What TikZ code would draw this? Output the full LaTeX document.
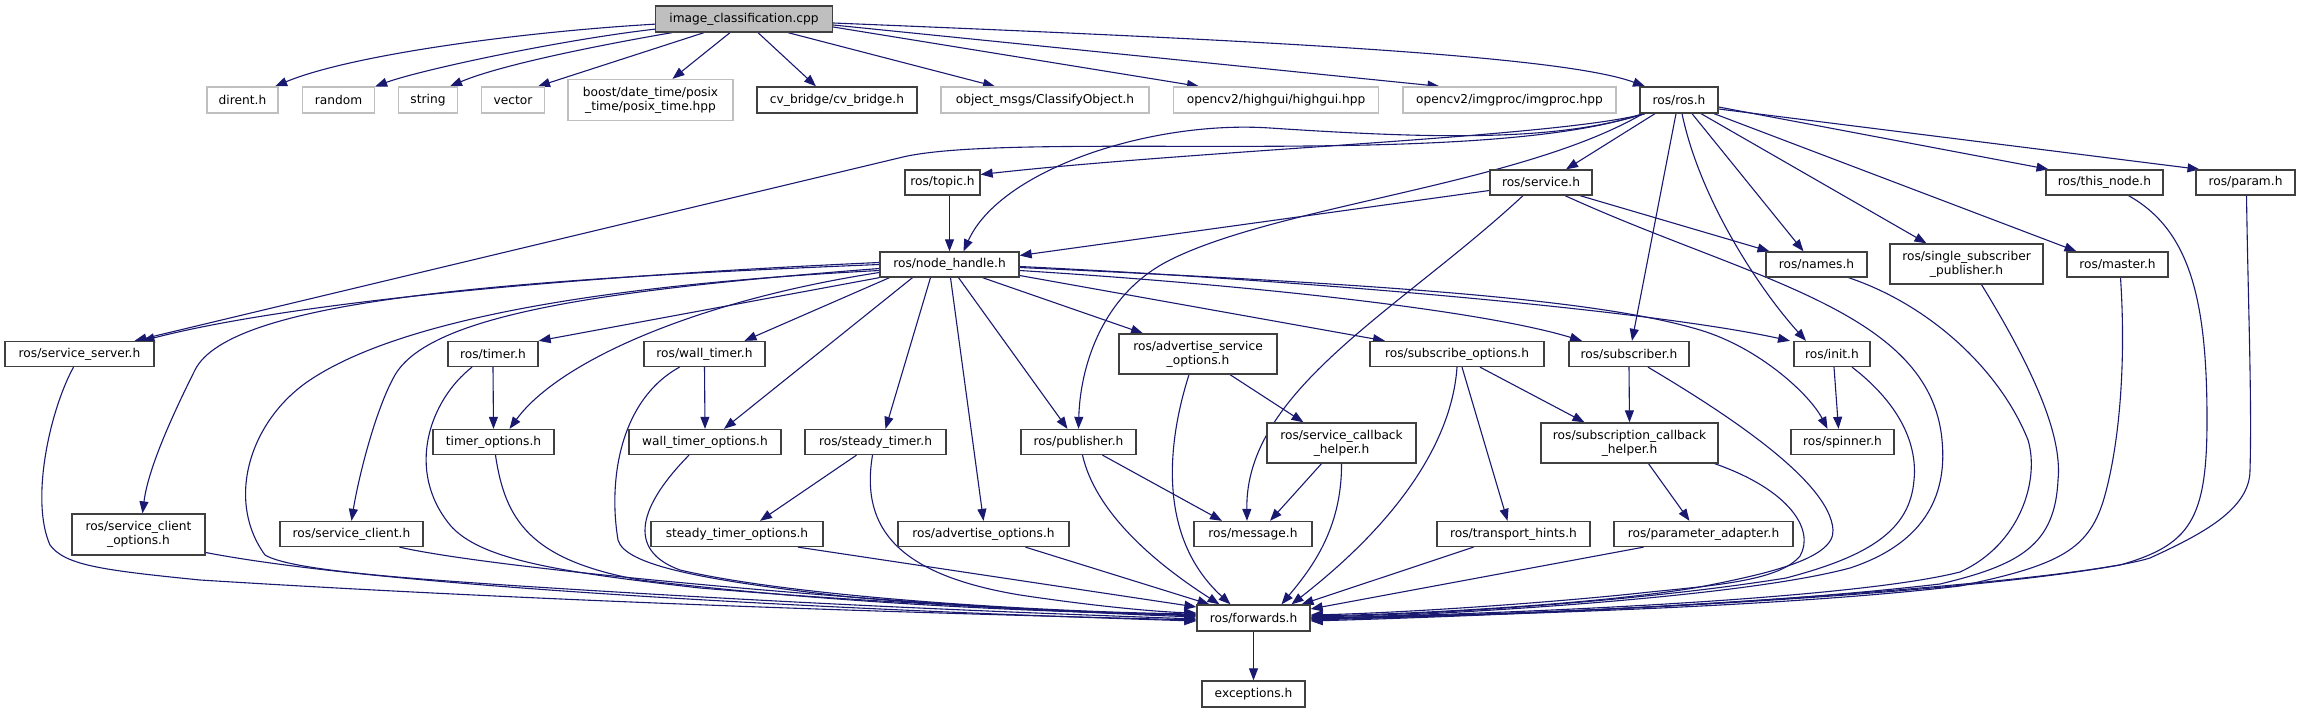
\documentclass[tikz,border=0pt]{standalone}
\usepackage{fontspec}
\setmainfont{DejaVu Sans}
\usetikzlibrary{arrows.meta}
\pgfdeclarelayer{bg}
\pgfsetlayers{bg,main}
\definecolor{edgeblue}{HTML}{191970}
\definecolor{extgray}{HTML}{BFBFBF}
\definecolor{boxdark}{HTML}{404040}
\begin{document}
\begin{tikzpicture}[x=1pt,y=-1pt,
  box/.style={draw=boxdark, line width=1.3pt, fill=white, inner sep=0pt, minimum height=25pt,
    font=\fontsize{12.2}{14}\selectfont, align=center},
  ext/.style={box, draw=extgray},
  topbox/.style={box, fill=extgray},
  dep/.style={draw=edgeblue, line width=1.1pt, -{Triangle[length=12pt,width=9pt]}},
]
\useasboundingbox (0,0) rectangle (2315,708);
% row 0
\node[topbox, minimum width=177pt, minimum height=26pt] (top) at (744,19) {image\_classification.cpp};
% row 1
\node[ext, minimum width=71pt, minimum height=26pt] (dirent) at (242.5,100) {dirent.h};
\node[ext, minimum width=72pt, minimum height=26pt] (random) at (338.5,100) {random};
\node[ext, minimum width=59pt, minimum height=26pt] (string) at (428,100) {string};
\node[ext, minimum width=63pt, minimum height=26pt] (vector) at (513,100) {vector};
\node[ext, minimum width=165pt, minimum height=41pt] (boost) at (650.5,100) {boost/date\_time/posix\\\_time/posix\_time.hpp};
\node[box, minimum width=160pt, minimum height=26pt] (cvb) at (837,100) {cv\_bridge/cv\_bridge.h};
\node[ext, minimum width=208pt, minimum height=26pt] (obj) at (1045,100) {object\_msgs/ClassifyObject.h};
\node[ext, minimum width=205pt, minimum height=26pt] (hig) at (1276,100) {opencv2/highgui/highgui.hpp};
\node[ext, minimum width=213pt, minimum height=26pt] (imp) at (1509.5,100) {opencv2/imgproc/imgproc.hpp};
\node[box, minimum width=78pt, minimum height=26pt] (ros) at (1679,100) {ros/ros.h};
% row 2
\node[box, minimum width=75pt] (topic) at (942.5,182.5) {ros/topic.h};
\node[box, minimum width=102pt] (srv) at (1541,182.5) {ros/service.h};
\node[box, minimum width=117pt] (thn) at (2104.5,182.5) {ros/this\_node.h};
\node[box, minimum width=99pt] (prm) at (2245.5,182.5) {ros/param.h};
% row 3
\node[box, minimum width=139pt] (nh) at (949.5,264.5) {ros/node\_handle.h};
\node[box, minimum width=101pt] (names) at (1816.5,264.5) {ros/names.h};
\node[box, minimum width=153pt, minimum height=40pt] (ssp) at (1966.5,264) {ros/single\_subscriber\\\_publisher.h};
\node[box, minimum width=101pt] (mst) at (2117.5,264.5) {ros/master.h};
% row 4
\node[box, minimum width=149pt] (ss) at (79.5,354) {ros/service\_server.h};
\node[box, minimum width=90pt] (tmr) at (493,354) {ros/timer.h};
\node[box, minimum width=121pt] (wt) at (704.5,354) {ros/wall\_timer.h};
\node[box, minimum width=158pt, minimum height=40pt] (aso) at (1198,354) {ros/advertise\_service\\\_options.h};
\node[box, minimum width=174pt] (so) at (1457,354) {ros/subscribe\_options.h};
\node[box, minimum width=120pt] (sub) at (1629,354) {ros/subscriber.h};
\node[box, minimum width=76pt] (init) at (1832,354) {ros/init.h};
% row 5
\node[box, minimum width=121pt] (tmo) at (493.5,442) {timer\_options.h};
\node[box, minimum width=152pt] (wto) at (705,442) {wall\_timer\_options.h};
\node[box, minimum width=141pt] (st) at (875.5,442) {ros/steady\_timer.h};
\node[box, minimum width=115pt] (pub) at (1078.5,442) {ros/publisher.h};
\node[box, minimum width=149pt, minimum height=40pt] (scbh) at (1341.5,443) {ros/service\_callback\\\_helper.h};
\node[box, minimum width=177pt, minimum height=40pt] (sch) at (1629.5,443) {ros/subscription\_callback\\\_helper.h};
\node[box, minimum width=103pt] (spin) at (1842.5,442) {ros/spinner.h};
% row 6
\node[box, minimum width=133pt, minimum height=41pt] (sco) at (138.5,534.5) {ros/service\_client\\\_options.h};
\node[box, minimum width=143pt] (sc) at (351.5,534) {ros/service\_client.h};
\node[box, minimum width=172pt] (sto) at (737,534) {steady\_timer\_options.h};
\node[box, minimum width=171pt] (ao) at (983.5,534) {ros/advertise\_options.h};
\node[box, minimum width=118pt] (msg) at (1253,534) {ros/message.h};
\node[box, minimum width=153pt] (th) at (1513.5,534) {ros/transport\_hints.h};
\node[box, minimum width=179pt] (pa) at (1703.5,534) {ros/parameter\_adapter.h};
% row 7, 8
\node[box, minimum width=113pt, minimum height=26pt] (fw) at (1253.5,618) {ros/forwards.h};
\node[box, minimum width=103pt, minimum height=26pt] (exc) at (1253.5,694) {exceptions.h};

\begin{pgfonlayer}{bg}
% from image_classification.cpp
\draw[dep] (top) .. controls (520,32) and (350,55) .. (dirent);
\draw[dep] (top) .. controls (560,40) and (420,70) .. (random);
\draw[dep] ([xshift=-72pt]top.south) .. controls (600,45) and (500,65) .. ([xshift=22pt]string.north);
\draw[dep] ([xshift=-40pt]top.south) -- ([xshift=25pt]vector.north);
\draw[dep] ([xshift=-14pt]top.south) -- ([xshift=22pt]boost.north);
\draw[dep] ([xshift=14pt]top.south) -- ([xshift=-21pt]cvb.north);
\draw[dep] ([xshift=44pt]top.south) -- ([xshift=-50pt]obj.north);
\draw[dep] ([yshift=-8pt]top.east) -- ([xshift=-77pt]hig.north);
\draw[dep] ([yshift=-6pt]top.east) -- ([xshift=-70pt]imp.north);
\draw[dep] ([yshift=-4pt]top.east) .. controls (1250,40) and (1560,55) .. ([xshift=-34pt]ros.north);
% from ros/ros.h
\draw[dep] ([xshift=-34pt]ros.south) .. controls (1560,137) and (1200,150) .. ([yshift=8pt]topic.east);
\draw[dep] ([xshift=-34pt]ros.south) .. controls (1560,140) and (1450,140) .. (1270,128)
   .. controls (1150,120) and (1000,170) .. ([xshift=14pt]nh.north);
\draw[dep] ([xshift=-36pt]ros.south) .. controls (1480,170) and (1020,130) .. (903,157) -- ([xshift=55pt]ss.north);
\draw[dep] ([xshift=-24pt]ros.south) -- ([xshift=25pt]srv.north);
\draw[dep] ([xshift=-36pt]ros.south) .. controls (1520,185) and (1280,205) .. (1170,260)
   .. controls (1100,295) and (1080,370) .. (pub.north);
\draw[dep] ([xshift=-3pt]ros.south) -- ([xshift=3pt]sub.north);
\draw[dep] ([xshift=3pt]ros.south) .. controls (1700,200) and (1760,290) .. ([xshift=-26pt]init.north);
\draw[dep] ([xshift=13pt]ros.south) -- ([xshift=-13pt]names.north);
\draw[dep] ([xshift=22pt]ros.south) -- ([xshift=-40pt]ssp.north);
\draw[dep] ([xshift=35pt]ros.south) -- ([xshift=-41pt]mst.north);
\draw[dep] ([yshift=-7pt]ros.east) -- ([xshift=-56pt]thn.north);
\draw[dep] ([yshift=-9pt]ros.east) -- ([xshift=-46pt]prm.north);
% from ros/service.h
\draw[dep] ([yshift=-8pt]srv.west) -- ([yshift=9pt]nh.east);
\draw[dep] ([xshift=-18pt]srv.south) .. controls (1400,310) and (1245,390) .. ([xshift=-6pt]msg.north);
\draw[dep] ([xshift=39pt]srv.south) -- ([xshift=-47pt]names.north);
\draw[dep] ([xshift=24pt]srv.south) .. controls (1750,280) and (1930,310) .. (1942,440)
   .. controls (1948,500) and (1920,545) .. (1850,568) .. controls (1750,595) and (1500,612) .. ([yshift=-1pt]fw.east);
% topic
\draw[dep] ([xshift=7pt]topic.south) -- (nh.north);
% right bundle into forwards
\draw[dep] ([xshift=24pt]thn.south) .. controls (2190,230) and (2207,300) .. (2207,420)
   .. controls (2207,520) and (2190,545) .. (2120,565) .. controls (1950,595) and (1600,612) .. ([yshift=-2pt]fw.east);
\draw[dep] ([xshift=1pt]prm.south) .. controls (2248,300) and (2252,400) .. (2250,470)
   .. controls (2250,510) and (2200,535) .. (2150,558) .. controls (2080,580) and (1700,610) .. ([yshift=-3pt]fw.east);
\draw[dep] ([xshift=3pt]mst.south) .. controls (2126,360) and (2120,440) .. (2105,495)
   .. controls (2090,550) and (2060,565) .. (1960,586) .. controls (1800,605) and (1550,614) .. ([yshift=-1pt]fw.east);
\draw[dep] ([xshift=15pt]ssp.south) .. controls (2040,380) and (2062,440) .. (2058,480)
   .. controls (2055,545) and (2020,565) .. (1940,584) .. controls (1750,606) and (1500,615) .. (fw.east);
\draw[dep] ([xshift=32pt]names.south) .. controls (1930,305) and (2000,370) .. (2028,440)
   .. controls (2040,480) and (2020,545) .. (1960,572) .. controls (1850,600) and (1500,614) .. (fw.east);
\draw[dep] ([xshift=20pt]init.south) .. controls (1895,400) and (1918,440) .. (1914,480)
   .. controls (1910,530) and (1870,556) .. (1786,578) .. controls (1650,600) and (1450,614) .. ([yshift=1pt]fw.east);
\draw[dep] ([xshift=19pt]sub.south) .. controls (1720,410) and (1830,480) .. (1833,530)
   .. controls (1835,560) and (1760,575) .. (1700,587) .. controls (1600,604) and (1420,614) .. ([yshift=2pt]fw.east);
\draw[dep] ([xshift=-4pt]sch.south east) .. controls (1790,490) and (1815,530) .. (1800,556)
   .. controls (1780,580) and (1720,585) .. (1650,592) .. controls (1550,603) and (1400,613) .. ([yshift=3pt]fw.east);
\draw[dep] ([xshift=-60pt]pa.south) -- ([yshift=9pt]fw.east);
\draw[dep] ([xshift=-40pt]th.south) -- ([xshift=48pt]fw.north);
\draw[dep] (so.south) .. controls (1452,440) and (1400,520) .. ([xshift=38pt]fw.north);
\draw[dep] (scbh.south) .. controls (1342,530) and (1310,570) .. ([xshift=28pt]fw.north);
% left bundle into forwards
\draw[dep] ([xshift=-6pt]ss.south) .. controls (50,410) and (30,500) .. (50,545)
   .. controls (65,565) and (100,570) .. (200,580) .. controls (600,605) and (1000,615) .. ([yshift=-2pt]fw.west);
\draw[dep] ([yshift=-6pt]nh.west) .. controls (600,285) and (400,320) .. (310,380)
   .. controls (250,420) and (225,500) .. (265,555) .. controls (290,570) and (400,578) .. (520,586)
   .. controls (800,604) and (1000,612) .. ([yshift=-1pt]fw.west);
\draw[dep] ([yshift=-18pt]sco.east) .. controls (400,590) and (900,612) .. ([yshift=-3pt]fw.west);
\draw[dep] ([xshift=48pt]sc.south) .. controls (500,570) and (900,606) .. ([yshift=1pt]fw.west);
\draw[dep] ([xshift=-21pt]tmr.south) .. controls (430,400) and (405,470) .. (450,525)
   .. controls (480,560) and (560,572) .. (700,588) .. controls (900,605) and (1100,612) .. ([yshift=2pt]fw.west);
\draw[dep] ([xshift=2pt]tmo.south) .. controls (505,520) and (530,560) .. (640,580)
   .. controls (850,605) and (1050,612) .. ([yshift=3pt]fw.west);
\draw[dep] ([xshift=-25pt]wt.south) .. controls (620,400) and (608,480) .. (618,540)
   .. controls (625,565) and (700,580) .. (850,597) .. controls (1000,610) and (1100,613) .. ([yshift=3pt]fw.west);
\draw[dep] ([xshift=-16pt]wto.south) .. controls (640,505) and (625,550) .. (680,570)
   .. controls (800,598) and (1050,612) .. ([yshift=4pt]fw.west);
\draw[dep] ([xshift=-3pt]st.south) .. controls (860,530) and (900,575) .. (1020,595)
   .. controls (1100,607) and (1160,612) .. ([yshift=5pt]fw.west);
\draw[dep] ([xshift=61pt]sto.south) -- ([yshift=11pt]fw.west);
\draw[dep] ([xshift=42pt]ao.south) -- ([xshift=-44pt]fw.north);
\draw[dep] ([xshift=4pt]pub.south) .. controls (1095,510) and (1150,560) .. ([xshift=-34pt]fw.north);
\draw[dep] ([xshift=-9pt]aso.south) .. controls (1165,450) and (1160,540) .. ([xshift=-23pt]fw.north);
% from ros/node_handle.h
\draw[dep] ([yshift=2pt]nh.west) .. controls (600,275) and (300,300) .. ([xshift=63pt]ss.north);
\draw[dep] (nh.west) .. controls (500,280) and (230,300) .. (195,370)
   .. controls (170,420) and (148,470) .. ([xshift=4pt]sco.north);
\draw[dep] ([yshift=-4pt]nh.west) .. controls (600,290) and (430,315) .. (395,375)
   .. controls (375,410) and (358,480) .. (sc.north);
\draw[dep] (nh.south west) -- (tmr.north east);
\draw[dep] ([yshift=-8pt]nh.west) .. controls (700,300) and (560,360) .. ([xshift=16pt]tmo.north);
\draw[dep] ([xshift=-60pt]nh.south) -- ([xshift=40pt]wt.north);
\draw[dep] ([xshift=-37pt]nh.south) -- ([xshift=19pt]wto.north);
\draw[dep] ([xshift=-19pt]nh.south) -- ([xshift=10pt]st.north);
\draw[dep] ([xshift=1pt]nh.south) -- (ao.north);
\draw[dep] ([xshift=9pt]nh.south) -- ([xshift=-11pt]pub.north);
\draw[dep] ([xshift=33pt]nh.south) -- ([xshift=-55pt]aso.north);
\draw[dep] ([yshift=-11pt]nh.east) -- ([xshift=-72pt]so.north);
\draw[dep] ([yshift=-6pt]nh.east) .. controls (1250,285) and (1480,310) .. ([xshift=-47pt]sub.north);
\draw[dep] ([yshift=-2pt]nh.east) .. controls (1300,280) and (1650,310) .. ([xshift=-42pt]init.north);
\draw[dep] ([yshift=-3pt]nh.east) .. controls (1400,285) and (1600,300) .. (1700,330)
   .. controls (1760,348) and (1810,395) .. ([xshift=-15pt]spin.north);
% remaining
\draw[dep] ([xshift=2pt]init.south) -- ([xshift=-4pt]spin.north);
\draw[dep] (sub.south) -- (sch.north);
\draw[dep] ([xshift=5pt]so.south) -- ([xshift=-6pt]th.north);
\draw[dep] ([xshift=23pt]so.south) -- ([xshift=-45pt]sch.north);
\draw[dep] ([xshift=19pt]sch.south) -- ([xshift=-14pt]pa.north);
\draw[dep] ([xshift=32pt]aso.south) -- ([xshift=-38pt]scbh.north);
\draw[dep] ([xshift=-20pt]scbh.south) -- ([xshift=17pt]msg.north);
\draw[dep] ([xshift=24pt]pub.south) -- ([xshift=-31pt]msg.north);
\draw[dep] ([xshift=-19pt]st.south) -- ([xshift=23pt]sto.north);
\draw[dep] (tmr.south) -- (tmo.north);
\draw[dep] (wt.south) -- (wto.north);
\draw[dep] (fw.south) -- (exc.north);
\end{pgfonlayer}
\end{tikzpicture}
\end{document}
